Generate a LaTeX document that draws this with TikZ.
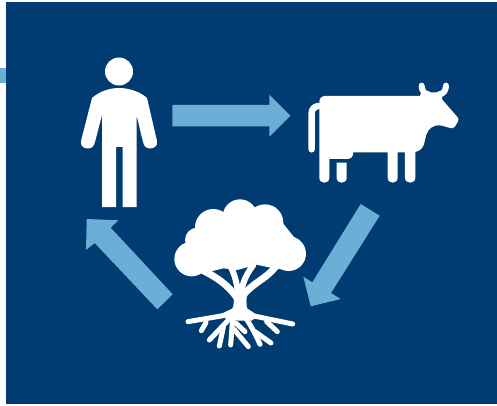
\documentclass[tikz,border=0pt]{standalone}
\definecolor{panelblue}{HTML}{003B71}
\definecolor{arrowblue}{HTML}{6BAED6}
\tikzset{
  iconfill/.style={fill=white},
  arrowfill/.style={fill=arrowblue},
  iconline/.style={draw=white, line cap=round, line join=round, line width=#1},
}
\begin{document}
\begin{tikzpicture}[x=1pt, y=-1pt]
    \useasboundingbox (0, 0) rectangle (497, 406);
    \fill[panelblue] (6, 2) rectangle (497, 404);
    \fill[arrowfill] (0, 68) rectangle (6, 83);

    % person
    \fill[iconfill] (119, 71.5) circle (14);
    \fill[iconfill] (92, 98) .. controls (100, 91) and (110, 88) .. (119, 88)
        .. controls (128, 88) and (139, 91) .. (147, 98)
        -- (157, 141) .. controls (158, 146) and (154, 148.5) .. (150, 148.5)
        .. controls (146, 148.5) and (144, 146) .. (143, 142)
        -- (136.5, 115) -- (136.5, 207) -- (122.7, 207) -- (122.7, 147) -- (116, 147)
        -- (116, 207) -- (102, 207) -- (102, 115) -- (95, 142)
        .. controls (94, 146) and (92, 148.5) .. (88, 148.5)
        .. controls (84, 148.5) and (80, 146) .. (81, 141) -- cycle;

    % cow
    \begin{scope}[shift={(290, 70)}, scale=0.3333]
        \fill[iconfill] (88, 95) .. controls (88, 84) and (96, 78) .. (106, 78)
            -- (390, 78) -- (394, 67) -- (458, 67) -- (456, 88) -- (503, 142)
            .. controls (510, 150) and (500, 160) .. (496, 168)
            .. controls (492, 176) and (486, 176) .. (480, 174)
            .. controls (465, 170) and (450, 163) .. (436, 167)
            .. controls (418, 172) and (408, 188) .. (405, 210)
            .. controls (403, 230) and (392, 243) .. (376, 246)
            -- (376, 323) .. controls (376, 343) and (345, 343) .. (345, 323)
            -- (345, 247) -- (323, 247)
            -- (323, 323) .. controls (323, 343) and (293, 343) .. (293, 323)
            -- (293, 247) -- (190, 247)
            .. controls (190, 260) and (182, 267) .. (172, 267)
            -- (118, 267)
            -- (118, 323) .. controls (118, 343) and (88, 343) .. (88, 323) -- cycle;
        \fill[iconfill] (140, 278) -- (170, 278) -- (170, 323)
            .. controls (170, 343) and (140, 343) .. (140, 323) -- cycle;
        \draw[iconline=6.5pt] (85, 108) .. controls (72, 110) and (65, 118) .. (65, 130) -- (65, 238);
        \draw[iconline=6pt] (395, 47) .. controls (395, 60) and (402, 72) .. (415, 73);
        \draw[iconline=6pt] (468, 47) .. controls (468, 60) and (461, 72) .. (448, 73);
    \end{scope}

    % tree
    \begin{scope}[shift={(160, 190)}, scale=0.3333]
        \fill[iconfill] (95, 207) circle (52);
        \fill[iconfill] (386, 191) circle (52);
        \fill[iconfill] (160, 112) circle (55);
        \fill[iconfill] (240, 80) circle (52);
        \fill[iconfill] (315, 98) circle (55);
        \fill[iconfill] (112, 150) circle (37);
        \fill[iconfill] (95, 207) -- (112, 113) -- (240, 40) -- (365, 95) -- (405, 145)
            -- (386, 240) -- (340, 235) -- (290, 224) -- (232, 240) -- (190, 235) -- (150, 245) -- cycle;
        % branches
        \draw[iconline=7pt] (130, 242) .. controls (170, 262) and (205, 285) .. (232, 325);
        \draw[iconline=7pt] (345, 232) .. controls (320, 265) and (280, 278) .. (250, 315);
        \draw[iconline=6pt] (212, 230) .. controls (225, 255) and (230, 280) .. (235, 310);
        \draw[iconline=6pt] (280, 225) .. controls (265, 245) and (250, 270) .. (245, 300);
        % trunk
        \fill[iconfill] (220, 300) .. controls (222, 325) and (224, 345) .. (215, 362)
            -- (180, 372) -- (205, 392) -- (275, 392) -- (295, 378) -- (262, 358)
            .. controls (258, 345) and (258, 325) .. (265, 295) -- cycle;
        % roots
        \draw[iconline=5pt] (84, 395) -- (190, 377) -- (225, 360);
        \draw[iconline=5pt] (398, 402) -- (282, 378) -- (255, 360);
        \draw[iconline=5pt] (138, 398) -- (124, 422);
        \draw[iconline=5pt] (210, 385) -- (148, 450);
        \draw[iconline=5pt] (190, 412) -- (178, 468);
        \draw[iconline=5pt] (218, 385) -- (212, 465);
        \draw[iconline=5pt] (222, 418) -- (265, 470);
        \draw[iconline=5pt] (228, 400) -- (255, 425);
        \draw[iconline=5pt] (258, 385) .. controls (275, 410) and (290, 440) .. (300, 463);
        \draw[iconline=5pt] (285, 425) -- (333, 459);
        \draw[iconline=5pt] (320, 395) -- (352, 425);
    \end{scope}

    % arrows
    \fill[arrowfill] (172.3, 105) -- (269.3, 105) -- (269.3, 94.7) -- (290.3, 115.7)
        -- (269.3, 136.7) -- (269.3, 126.3) -- (172.3, 126.3) -- cycle;
    \fill[arrowfill] (360.7, 204) -- (379.7, 215.7) -- (331, 293) -- (340.7, 299)
        -- (310.7, 306.3) -- (303.3, 276.7) -- (312.3, 282.3) -- cycle;
    \fill[arrowfill] (172.7, 294.3) -- (157.3, 309.3) -- (94.7, 243) -- (86, 250)
        -- (86.7, 219) -- (118.3, 220.3) -- (110.7, 227.7) -- cycle;
\end{tikzpicture}
\end{document}
